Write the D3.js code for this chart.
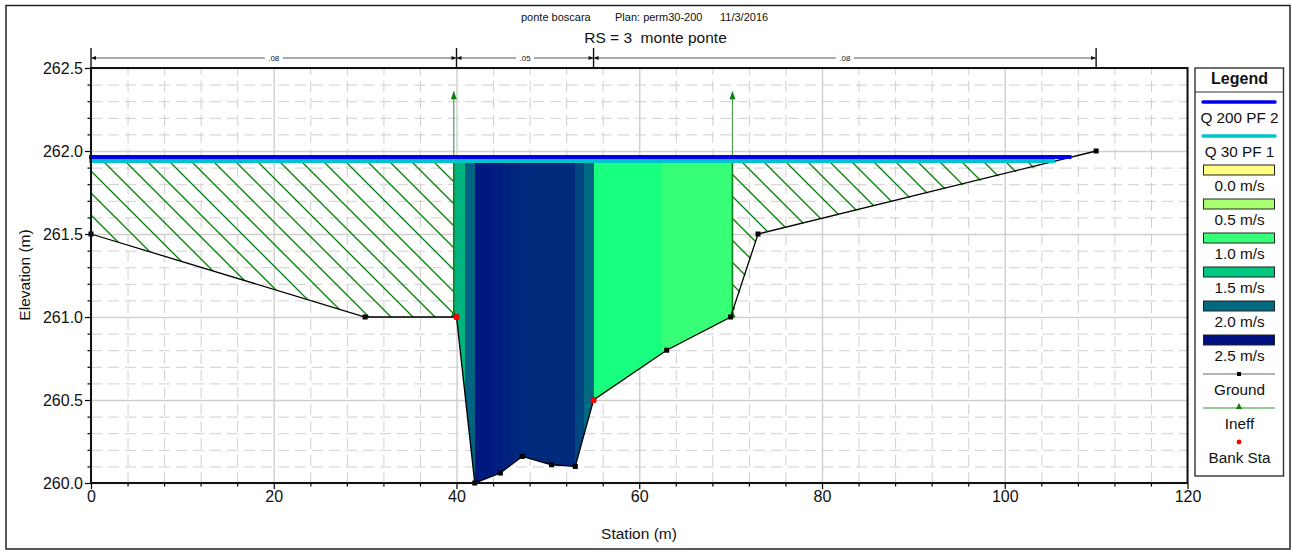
<!DOCTYPE html>
<html>
<head>
<meta charset="utf-8">
<script src="https://cdn.jsdelivr.net/npm/d3@7"></script>
<style>
  html, body { margin: 0; padding: 0; background: #fff; }
  svg { display: block; }
  text { font-family: "Liberation Sans", Arial, sans-serif; fill: #111; }
</style>
</head>
<body>
<div id="chart"></div>
<script>
// Data
var groundSta = [0, 30, 40, 42, 44.8, 47.2, 50.4, 53, 55, 63, 70, 73, 110];
var groundElev = [261.5, 261, 261, 260, 260.06, 260.16, 260.11, 260.1, 260.5, 260.8, 261, 261.5, 262];
var bankSta = [40, 55];
var bankElev = [261, 260.5];
var ineffSta = [39.7, 70.2];
var ineffTop = 262.36;
var ineffBottom = 261;
var wsQ200 = { elev: 261.964, from: 0, to: 107.3 };
var wsQ30 = { elev: 261.94, from: 0, to: 105.5 };
var flowTop = 261.93;

// velocity columns, edges has one more entry than colors
var bandEdges = [39.7, 40.9, 42, 44, 45, 46, 47, 48, 53, 54, 55, 62.5, 70.2];
var bandColors = ["#00b47e", "#006382", "#00187f", "#001d7f", "#00217e", "#00257d", "#00287c", "#002b7c", "#004681", "#006880", "#19ff80", "#38ff78"];

// manning values
var manningEdges = [0, 40, 55, 110];
var manningLabels = [".08", ".05", ".08"];

var yMajor = [260, 260.5, 261, 261.5, 262, 262.5];
var xMajor = [0, 20, 40, 60, 80, 100, 120];

var titleParts = ["ponte boscara", "Plan: perm30-200", "11/3/2016"];

var legendNames = ["Q 200 PF 2", "Q 30 PF 1", "0.0 m/s", "0.5 m/s", "1.0 m/s", "1.5 m/s", "2.0 m/s", "2.5 m/s", "Ground", "Ineff", "Bank Sta"];
var legendColors = ["#0000f0", "#00c4c8", "#ffff80", "#a8ff70", "#38ff78", "#00c880", "#006880", "#000f80", "#000", "#1a8a1a", "#f00"];
var legendKinds = ["line", "line", "box", "box", "box", "box", "box", "box", "ground", "ineff", "bank"];

// svg container
var svgWidth = 1292;
var svgHeight = 551;

// margins
var margin = { top: 68, right: 104.5, bottom: 68, left: 91 };
var chartHeight = svgHeight - margin.top - margin.bottom;
var chartWidth = svgWidth - margin.left - margin.right;

var svg = d3.select("#chart").append("svg")
  .attr("width", svgWidth)
  .attr("height", svgHeight);

// outer frame
svg.append("rect")
  .attr("x", 6).attr("y", 5.5)
  .attr("width", 1284).attr("height", 543.5)
  .attr("fill", "none").attr("stroke", "#222").attr("stroke-width", 1.5);

var chartGroup = svg.append("g")
  .attr("transform", "translate(" + margin.left + "," + margin.top + ")");

var xScale = d3.scaleLinear().domain([0, 120]).range([0, chartWidth]);
var yScale = d3.scaleLinear().domain([260, 262.5]).range([chartHeight, 0]);

var xMinor = d3.range(0, 120.01, 4).filter(function(d) { return d % 20 !== 0; });
var yMinor = d3.range(0, 25).map(function(d) { return 260 + d * 0.1; })
  .filter(function(d) { return Math.round(d * 10) % 5 !== 0; });

// Grid
function grid(axis, cls, dash, width, translate) {
  var g = chartGroup.append("g").attr("class", cls);
  if (translate) g.attr("transform", translate);
  g.call(axis);
  g.select(".domain").remove();
  g.selectAll("line").attr("stroke", "#cfcfcf").attr("stroke-width", width).attr("stroke-dasharray", dash);
}
grid(d3.axisLeft(yScale).tickValues(yMinor).tickSize(-chartWidth).tickFormat(""), "grid", "11 6", 1);
grid(d3.axisBottom(xScale).tickValues(xMinor).tickSize(-chartHeight).tickFormat(""), "grid", "11 6", 1, "translate(0," + chartHeight + ")");
grid(d3.axisLeft(yScale).tickValues(yMajor).tickSize(-chartWidth).tickFormat(""), "grid", null, 1.4);
grid(d3.axisBottom(xScale).tickValues(xMajor).tickSize(-chartHeight).tickFormat(""), "grid", null, 1.4, "translate(0," + chartHeight + ")");

// Hatch pattern for the ineffective areas
var defs = svg.append("defs");
var hatch = defs.append("pattern")
  .attr("id", "hatch")
  .attr("patternUnits", "userSpaceOnUse")
  .attr("x", 8 - margin.left + margin.top).attr("y", 0)
  .attr("width", 22).attr("height", 22);
hatch.append("path")
  .attr("d", "M-2,-2L24,24M-24,-2L2,24M20,-2L46,24M-2,-24L24,2M-2,20L24,46")
  .attr("stroke", "#0a800a").attr("stroke-width", 1.35).attr("fill", "none");

var groundPoints = groundSta.map(function(d, i) { return [d, groundElev[i]]; });

var polyLine = d3.line()
  .x(function(d) { return xScale(d[0]); })
  .y(function(d) { return yScale(d[1]); });

var hatchAreas = [
  [[0, flowTop], [ineffSta[0], flowTop], [ineffSta[0], ineffBottom]].concat(groundPoints.slice(0, 2).reverse()),
  [[ineffSta[1], flowTop], [wsQ30.to, flowTop], [73, 261.5], [ineffSta[1], ineffBottom]]
];
hatchAreas.forEach(function(area) {
  chartGroup.append("path")
    .attr("d", polyLine(area) + "Z")
    .attr("fill", "url(#hatch)");
});

// Velocity columns, clipped to the wetted section
var wetted = [[ineffSta[0], flowTop], [ineffSta[0], ineffBottom]]
  .concat(groundPoints.slice(2, 11))
  .concat([[ineffSta[1], ineffBottom], [ineffSta[1], flowTop]]);

defs.append("clipPath").attr("id", "wetted").append("path").attr("d", polyLine(wetted) + "Z");

chartGroup.append("g").attr("clip-path", "url(#wetted)")
  .selectAll("rect")
  .data(bandColors)
  .enter()
  .append("rect")
  .attr("x", function(d, i) { return Math.round(xScale(bandEdges[i])); })
  .attr("width", function(d, i) { return Math.round(xScale(bandEdges[i + 1])) - Math.round(xScale(bandEdges[i])); })
  .attr("y", yScale(flowTop))
  .attr("height", yScale(260) - yScale(flowTop))
  .attr("shape-rendering", "crispEdges")
  .attr("fill", function(d) { return d; });

// Ineffective flow markers
ineffSta.forEach(function(s) {
  var px = xScale(s);
  chartGroup.append("line")
    .attr("x1", px).attr("x2", px)
    .attr("y1", yScale(ineffTop)).attr("y2", yScale(flowTop))
    .attr("stroke", "#4f9f4f").attr("stroke-width", 1.2);
  chartGroup.append("line")
    .attr("x1", px).attr("x2", px)
    .attr("y1", yScale(flowTop)).attr("y2", yScale(ineffBottom))
    .attr("stroke", "#1c7a1c").attr("stroke-width", 1.6);
  [ineffTop, ineffBottom + 0.045].forEach(function(e) {
    var ty = yScale(e);
    chartGroup.append("path")
      .attr("d", "M" + px + "," + ty + "l3,8h-6Z")
      .attr("fill", "#0a7d0a");
  });
});

// Ground
chartGroup.append("path")
  .attr("d", polyLine(groundPoints))
  .attr("fill", "none").attr("stroke", "#000").attr("stroke-width", 1.3);

// Water surfaces
[wsQ30, wsQ200].forEach(function(ws, i) {
  chartGroup.append("line")
    .attr("x1", xScale(ws.from) - 2).attr("x2", xScale(ws.to))
    .attr("y1", yScale(ws.elev)).attr("y2", yScale(ws.elev))
    .attr("stroke", i ? legendColors[0] : legendColors[1])
    .attr("stroke-width", 4.2);
});

chartGroup.selectAll(".ground-pt")
  .data(groundPoints)
  .enter()
  .append("rect")
  .attr("class", "ground-pt")
  .attr("x", function(d) { return xScale(d[0]) - 2.5; })
  .attr("y", function(d) { return yScale(d[1]) - 2.5; })
  .attr("width", 5).attr("height", 5)
  .attr("fill", "#000");

chartGroup.selectAll(".bank-pt")
  .data(bankSta)
  .enter()
  .append("circle")
  .attr("class", "bank-pt")
  .attr("cx", function(d) { return xScale(d); })
  .attr("cy", function(d, i) { return yScale(bankElev[i]); })
  .attr("r", 3.1)
  .attr("fill", "#f00");

// Axes
function styleAxis(g) {
  g.select(".domain").remove();
  g.selectAll("line").attr("stroke", "#000").attr("stroke-width", 1.2);
  g.selectAll("text").style("font-size", "16px").attr("fill", "#111");
}
chartGroup.append("g").attr("class", "y axis")
  .call(d3.axisLeft(yScale).tickValues(yMajor).tickSize(6).tickPadding(2).tickFormat(d3.format(".1f")))
  .call(styleAxis);
chartGroup.append("g").attr("class", "y axis")
  .call(d3.axisLeft(yScale).tickValues(yMinor).tickSize(3.5).tickFormat(""))
  .call(styleAxis);
chartGroup.append("g").attr("class", "x axis")
  .attr("transform", "translate(0," + chartHeight + ")")
  .call(d3.axisBottom(xScale).tickValues(xMajor).tickSize(6).tickPadding(2).tickFormat(d3.format("d")))
  .call(styleAxis);
chartGroup.append("g").attr("class", "x axis")
  .attr("transform", "translate(0," + chartHeight + ")")
  .call(d3.axisBottom(xScale).tickValues(xMinor).tickSize(3.5).tickFormat(""))
  .call(styleAxis);

chartGroup.append("rect")
  .attr("width", chartWidth).attr("height", chartHeight)
  .attr("fill", "none").attr("stroke", "#111").attr("stroke-width", 2);

// Manning's n bar over the plot
var nBar = chartGroup.append("g");
nBar.selectAll("line.tick")
  .data(manningEdges)
  .enter()
  .append("line")
  .attr("class", "tick")
  .attr("x1", function(d) { return xScale(d); }).attr("x2", function(d) { return xScale(d); })
  .attr("y1", -20).attr("y2", 0)
  .attr("stroke", "#111").attr("stroke-width", 1.4);

manningLabels.forEach(function(label, i) {
  var x0 = xScale(manningEdges[i]);
  var x1 = xScale(manningEdges[i + 1]);
  nBar.append("line")
    .attr("x1", x0).attr("x2", x1).attr("y1", -10).attr("y2", -10)
    .attr("stroke", "#555").attr("stroke-width", 1);
  nBar.append("path")
    .attr("d", "M" + x0 + ",-10l5,-2v4Z M" + x1 + ",-10l-5,-2v4Z")
    .attr("fill", "#111");
  var mid = (x0 + x1) / 2;
  nBar.append("rect")
    .attr("x", mid - 9).attr("y", -15).attr("width", 18).attr("height", 10)
    .attr("fill", "#fff");
  nBar.append("text")
    .attr("x", mid).attr("y", -7)
    .attr("text-anchor", "middle")
    .style("font-size", "8px")
    .text(label);
});

// Titles
var titleX = [521, 615, 720];
titleParts.forEach(function(part, i) {
  svg.append("text")
    .attr("x", titleX[i]).attr("y", 20.5)
    .style("font-size", "11px")
    .text(part);
});
svg.append("text")
  .attr("x", 655.5).attr("y", 42.5)
  .attr("text-anchor", "middle")
  .style("font-size", "15.5px")
  .style("white-space", "pre")
  .text("RS = 3  monte ponte");
svg.append("text")
  .attr("transform", "translate(30,275) rotate(-90)")
  .attr("text-anchor", "middle")
  .style("font-size", "15.5px")
  .text("Elevation (m)");
svg.append("text")
  .attr("x", 639).attr("y", 539)
  .attr("text-anchor", "middle")
  .style("font-size", "15.5px")
  .text("Station (m)");

// Legend
var legend = svg.append("g").attr("transform", "translate(1195,68)");
legend.append("rect")
  .attr("width", 88.5).attr("height", 408)
  .attr("fill", "#fff").attr("stroke", "#333").attr("stroke-width", 1.4);
legend.append("line")
  .attr("x1", 0).attr("x2", 88.5).attr("y1", 24).attr("y2", 24)
  .attr("stroke", "#333").attr("stroke-width", 1.2);
legend.append("text")
  .attr("x", 44.5).attr("y", 16)
  .attr("text-anchor", "middle")
  .style("font-size", "16px").style("font-weight", "bold")
  .text("Legend");

legendNames.forEach(function(name, i) {
  var y = 34 + 34 * i;
  var row = legend.append("g");
  var kind = legendKinds[i];
  if (kind === "line") {
    row.append("line")
      .attr("x1", 8).attr("x2", 80).attr("y1", y).attr("y2", y)
      .attr("stroke", legendColors[i]).attr("stroke-width", 3.5).attr("stroke-linecap", "round");
  } else if (kind === "box") {
    row.append("rect")
      .attr("x", 8.5).attr("y", y - 5).attr("width", 71).attr("height", 10)
      .attr("fill", legendColors[i]).attr("stroke", "#222").attr("stroke-width", 1);
  } else if (kind === "ground") {
    row.append("line")
      .attr("x1", 8).attr("x2", 80).attr("y1", y).attr("y2", y)
      .attr("stroke", "#666").attr("stroke-width", 1.2);
    row.append("rect")
      .attr("x", 42).attr("y", y - 2).attr("width", 4).attr("height", 4)
      .attr("fill", "#000");
  } else if (kind === "ineff") {
    row.append("line")
      .attr("x1", 8).attr("x2", 80).attr("y1", y).attr("y2", y)
      .attr("stroke", "#72b872").attr("stroke-width", 1.4);
    row.append("path")
      .attr("d", "M44," + (y - 5) + "l3,6h-6Z")
      .attr("fill", "#0a7d0a");
  } else {
    row.append("circle")
      .attr("cx", 44).attr("cy", y).attr("r", 2.4)
      .attr("fill", legendColors[i]);
  }
  row.append("text")
    .attr("x", 44.5).attr("y", y + 21)
    .attr("text-anchor", "middle")
    .style("font-size", "15.3px")
    .text(name);
});
</script>
</body>
</html>
